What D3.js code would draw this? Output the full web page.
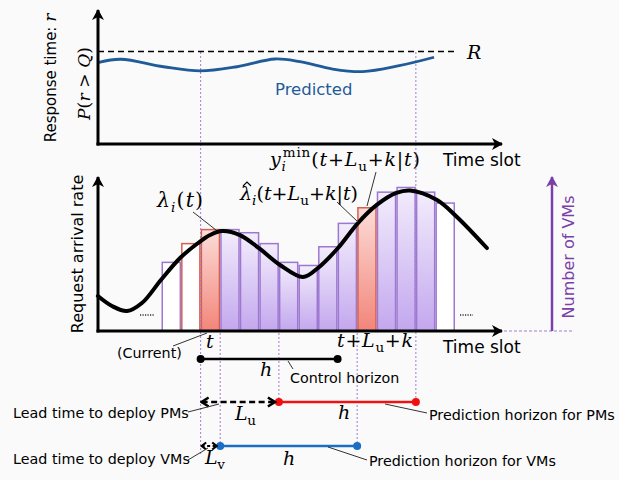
<!DOCTYPE html>
<html><head><meta charset="utf-8">
<script src="https://cdn.jsdelivr.net/npm/d3@7"></script>
<style>body{margin:0;background:#fafafa}</style>
</head><body><svg id="chart" width="619" height="480"></svg>
<script>
// time slots: number of VMs per slot
var slotValues = [4.4, 5.6, 6.5, 6.5, 6.3, 5.6, 4.4, 4.2, 5.4, 6.9, 7.9, 8.9, 9.2, 8.9, 8.2];
var slotKinds = ["past", "pastRed", "current", "pred", "pred", "pred", "pred", "pred", "pred", "pred",
                 "predRed", "pred", "pred", "pred", "future"];

// request arrival rate curve (slot, rate)
var rateX = [-3.25, -2.53, -1.76, -1.0, -0.03, 0.95, 1.87, 2.48, 3.09, 4.01, 5.03, 6.06, 7.23, 8.0, 9.02, 10.04, 11.0, 12.0, 12.7, 14.08, 15.1, 16.63];
var rateY = [2.24, 1.6, 1.28, 1.79, 3.27, 4.68, 5.64, 6.15, 6.41, 6.15, 5.26, 4.23, 3.46, 4.04, 5.32, 6.92, 8.08, 8.85, 9.01, 8.4, 7.31, 5.32];

// predicted response time curve (slot, P(r>Q))
var respX = [-3.2, -2.08, 0.1, 1.98, 3.86, 5.8, 7.07, 8.75, 10.27, 12.15, 13.93];
var respY = [0.601, 0.623, 0.568, 0.537, 0.568, 0.625, 0.605, 0.551, 0.532, 0.576, 0.638];
var respLimit = 0.68;

// horizons (in slots)
var tNow = 2, leadVM = 1, leadPM = 4, horizon = 7;

var sans = "DejaVu Sans", serif = "DejaVu Serif";
var purple = "#9d78d0", dotPurple = "#a57ad6";

var svg = d3.select("#chart");
svg.append("rect").attr("width", 619).attr("height", 480).attr("fill", "#fafafa");

var xLeft = 98, xRight = 502;
var x = d3.scaleLinear().domain([0, 15]).range([161.5, 455]);
var yResp = d3.scaleLinear().domain([0, 1]).range([144, 8]);
var yRate = d3.scaleLinear().domain([0, 10]).range([331, 175]);

var defs = svg.append("defs");
function grad(id, c0, c1) {
    var g = defs.append("linearGradient").attr("id", id)
        .attr("x1", 0).attr("y1", 0).attr("x2", 0).attr("y2", 1);
    g.append("stop").attr("offset", 0).attr("stop-color", c0);
    g.append("stop").attr("offset", 1).attr("stop-color", c1);
}
grad("gPurple", "#f3edfc", "#c3a7ee");
grad("gRed", "#fcdcd7", "#f2857a");

function marker(id, color, kind) {
    var m = defs.append("marker").attr("id", id)
        .attr("viewBox", "-12 -7 14 14").attr("refX", 0).attr("refY", 0)
        .attr("markerWidth", 14).attr("markerHeight", 14)
        .attr("markerUnits", "userSpaceOnUse").attr("orient", "auto-start-reverse");
    if (kind == "open") {
        m.append("path").attr("d", "M-7,-4.5 L0,0 L-7,4.5").attr("fill", "none")
            .attr("stroke", color).attr("stroke-width", 2.5);
    } else if (kind == "small") {
        m.append("path").attr("d", "M-4.5,-3.5 L0,0 L-4.5,3.5").attr("fill", "none")
            .attr("stroke", color).attr("stroke-width", 2.2);
    } else {
        m.append("path").attr("d", "M-10,-6 L1,0 L-10,6 L-7,0 Z").attr("fill", color);
    }
}
marker("arrK", "#000", "solid");
marker("arrP", "#7b3fa8", "solid");
marker("chev", "#000", "open");
marker("chevS", "#000", "small");

// ---- bars ----
var bw = x(1) - x(0);
svg.append("g").selectAll("rect").data(slotValues).enter().append("rect")
    .attr("x", function(d, i) { return x(i) + 0.75; })
    .attr("y", function(d) { return yRate(d); })
    .attr("width", bw - 1.5)
    .attr("height", function(d) { return yRate(0) - yRate(d); })
    .attr("fill", function(d, i) {
        var k = slotKinds[i];
        if (k == "pred") return "url(#gPurple)";
        if (k == "current" || k == "predRed") return "url(#gRed)";
        return "#fff";
    })
    .attr("stroke", function(d, i) {
        var k = slotKinds[i];
        return (k == "pastRed" || k == "current" || k == "predRed") ? "#d6604e" : purple;
    })
    .attr("stroke-width", 1.5);

// ---- dotted guide lines ----
var guides = [
    [tNow, 52, 455], [tNow + leadPM + horizon, 52, 402],
    [tNow + leadVM, 333, 446], [tNow + leadPM, 333, 402], [tNow + leadVM + horizon, 333, 446]
];
svg.append("g").selectAll("line").data(guides).enter().append("line")
    .attr("x1", function(d) { return x(d[0]); }).attr("x2", function(d) { return x(d[0]); })
    .attr("y1", function(d) { return d[1]; }).attr("y2", function(d) { return d[2]; })
    .attr("stroke", dotPurple).attr("stroke-width", 1).attr("stroke-dasharray", "2,2");

// ---- top panel ----
svg.append("line").attr("x1", xLeft).attr("x2", 456).attr("y1", yResp(respLimit)).attr("y2", yResp(respLimit))
    .attr("stroke", "#000").attr("stroke-width", 1.6).attr("stroke-dasharray", "6,4");
var respLine = d3.line().curve(d3.curveCatmullRom)
    .x(function(d, i) { return x(respX[i]); }).y(function(d) { return yResp(d); });
svg.append("path").attr("d", respLine(respY)).attr("fill", "none")
    .attr("stroke", "#1f5a99").attr("stroke-width", 2.8);

function axes(yBase, yTop) {
    svg.append("line").attr("x1", xLeft).attr("x2", xLeft).attr("y1", yBase + 1.5).attr("y2", yTop)
        .attr("stroke", "#000").attr("stroke-width", 3).attr("marker-end", "url(#arrK)");
    svg.append("line").attr("x1", xLeft - 1.5).attr("x2", xRight).attr("y1", yBase).attr("y2", yBase)
        .attr("stroke", "#000").attr("stroke-width", 3).attr("marker-end", "url(#arrK)");
    svg.append("text").attr("x", 443).attr("y", yBase + 22).attr("font-family", sans)
        .attr("font-size", 17).text("Time slot");
}
axes(yResp(0), 10);

svg.append("text").attr("x", 275).attr("y", 95).attr("font-family", sans).attr("font-size", 16.5)
    .attr("fill", "#1f5a99").text("Predicted");

// ---- middle panel ----
var rateLine = d3.line().curve(d3.curveCatmullRom)
    .x(function(d, i) { return x(rateX[i]); }).y(function(d) { return yRate(d); });
svg.append("path").attr("d", rateLine(rateY)).attr("fill", "none")
    .attr("stroke", "#000").attr("stroke-width", 4).attr("stroke-linecap", "round");
axes(yRate(0), 177);

// little "....." marks
[[140, 155], [460, 473]].forEach(function(d) {
    svg.append("line").attr("x1", d[0]).attr("x2", d[1]).attr("y1", 315).attr("y2", 315)
        .attr("stroke", "#333").attr("stroke-width", 1.5).attr("stroke-dasharray", "1.2,1.3");
});

// number of VMs axis
svg.append("line").attr("x1", xRight + 2).attr("x2", 572).attr("y1", yRate(0)).attr("y2", yRate(0))
    .attr("stroke", dotPurple).attr("stroke-width", 1).attr("stroke-dasharray", "3,2");
svg.append("line").attr("x1", 552).attr("x2", 552).attr("y1", yRate(0)).attr("y2", 177)
    .attr("stroke", "#7b3fa8").attr("stroke-width", 2.5).attr("marker-end", "url(#arrP)");
svg.append("text").attr("transform", "translate(574,257) rotate(-90)").attr("text-anchor", "middle")
    .attr("font-family", sans).attr("font-size", 16).attr("fill", "#7b3fa8").text("Number of VMs");

// y labels
svg.append("text").attr("transform", "translate(56,78) rotate(-90)").attr("text-anchor", "middle")
    .attr("font-family", sans).attr("font-size", 15)
    .call(function(t) {
        t.append("tspan").text("Response time: ");
        t.append("tspan").attr("font-family", serif).attr("font-style", "italic").attr("font-size", 17).text("r");
    });
svg.append("text").attr("transform", "translate(83,254) rotate(-90)").attr("text-anchor", "middle")
    .attr("font-family", sans).attr("font-size", 16).text("Request arrival rate");

// math helper: parts = [text, style, dx]; style words: i (italic), sub, sup
function math(px, py, parts, opts) {
    opts = opts || {};
    var t = svg.append("text").attr("x", px).attr("y", py)
        .attr("font-family", serif).attr("font-size", opts.size || 19);
    if (opts.len) t.attr("textLength", opts.len).attr("lengthAdjust", "spacing");
    if (opts.rotate) t.attr("transform", "rotate(-90," + px + "," + py + ")");
    var cur = 0;
    parts.forEach(function(p) {
        var st = (p[1] || "").split(" ");
        var shift = st.indexOf("sub") >= 0 ? 5 : (st.indexOf("sup") >= 0 ? -9 : 0);
        var ts = t.append("tspan").text(p[0]).attr("dy", shift - cur);
        cur = shift;
        if (st.indexOf("i") >= 0) ts.attr("font-style", "italic");
        if (shift !== 0) ts.attr("font-size", 13.5);
        if (p[2]) ts.attr("dx", p[2]);
    });
    return t;
}

math(90, 120, [["P", "i"], ["("], ["r", "i"], [" > "], ["Q", "i"], [")"]], {rotate: true, len: 73, size: 17});
math(467, 59, [["R", "i"]]);

math(157, 207, [["λ", "i"], ["i", "i sub"], ["("], ["t", "i"], [")"]], {len: 46, size: 20.5});
math(240, 200, [["λ", "i"], ["i", "i sub"], ["("], ["t", "i"], ["+"], ["L", "i"], ["u", "sub"], ["+"], ["k", "i"], ["|"], ["t", "i"], [")"]], {len: 118});
// hat over lambda-hat
svg.append("path").attr("d", "M243,186 L247,182 L251,186").attr("fill", "none")
    .attr("stroke", "#000").attr("stroke-width", 1.1);
math(270, 166, [["y", "i"], ["i", "i sub"], ["min", "sup", -4], ["("], ["t", "i"], ["+"], ["L", "i"], ["u", "sub"], ["+"], ["k", "i"], ["|"], ["t", "i"], [")"]], {len: 150});

math(206, 348, [["t", "i"]]);
math(337, 347, [["t", "i"], ["+"], ["L", "i"], ["u", "sub"], ["+"], ["k", "i"]], {len: 76});
math(260, 376, [["h", "i"]]);
math(235, 420, [["L", "i"], ["u", "sub"]], {len: 21});
math(338, 419, [["h", "i"]]);
math(205, 464, [["L", "i"], ["v", "sub"]], {len: 20});
math(283, 465, [["h", "i"]]);

// ---- horizons ----
var rows = [
    {from: tNow, to: tNow + horizon, y: 359, color: "#000"},
    {from: tNow + leadPM, to: tNow + leadPM + horizon, y: 402, color: "#f01010"},
    {from: tNow + leadVM, to: tNow + leadVM + horizon, y: 446, color: "#1a6fc4"}
];
rows.forEach(function(r) {
    svg.append("line").attr("x1", x(r.from)).attr("x2", x(r.to)).attr("y1", r.y).attr("y2", r.y)
        .attr("stroke", r.color).attr("stroke-width", 2.5);
    [r.from, r.to].forEach(function(s) {
        svg.append("circle").attr("cx", x(s)).attr("cy", r.y).attr("r", 4).attr("fill", r.color);
    });
});
// lead-time arrows
svg.append("line").attr("x1", x(tNow) + 1).attr("x2", x(tNow + leadPM) - 4).attr("y1", 402).attr("y2", 402)
    .attr("stroke", "#000").attr("stroke-width", 2.5).attr("stroke-dasharray", "6,3.5")
    .attr("marker-start", "url(#chev)").attr("marker-end", "url(#chev)");
svg.append("line").attr("x1", x(tNow) + 1).attr("x2", x(tNow + leadVM) - 3.5).attr("y1", 446).attr("y2", 446)
    .attr("stroke", "#000").attr("stroke-width", 2.2).attr("stroke-dasharray", "3,2.5")
    .attr("marker-start", "url(#chevS)").attr("marker-end", "url(#chevS)");

// annotation labels and leaders
var labels = [
    ["(Current)", 117, 358, [173, 346, 207, 333]],
    ["Control horizon", 290, 383, [288, 361, 293, 369]],
    ["Lead time to deploy PMs", 13, 418, [188, 412, 219, 404]],
    ["Lead time to deploy VMs", 13, 464, [188, 460, 208, 448]],
    ["Prediction horizon for PMs", 429, 420, [385, 404, 427, 413]],
    ["Prediction horizon for VMs", 369, 466, [328, 447, 367, 460]]
];
labels.forEach(function(l) {
    svg.append("text").attr("x", l[1]).attr("y", l[2]).attr("font-family", sans).attr("font-size", 14.3).text(l[0]);
    svg.append("line").attr("x1", l[3][0]).attr("y1", l[3][1]).attr("x2", l[3][2]).attr("y2", l[3][3])
        .attr("stroke", "#333").attr("stroke-width", 1);
});
// math leaders
[[193, 212, 216, 230], [337, 202, 358, 222], [376, 172, 367, 206]].forEach(function(d) {
    svg.append("line").attr("x1", d[0]).attr("y1", d[1]).attr("x2", d[2]).attr("y2", d[3])
        .attr("stroke", "#333").attr("stroke-width", 1);
});
</script>
</body></html>
